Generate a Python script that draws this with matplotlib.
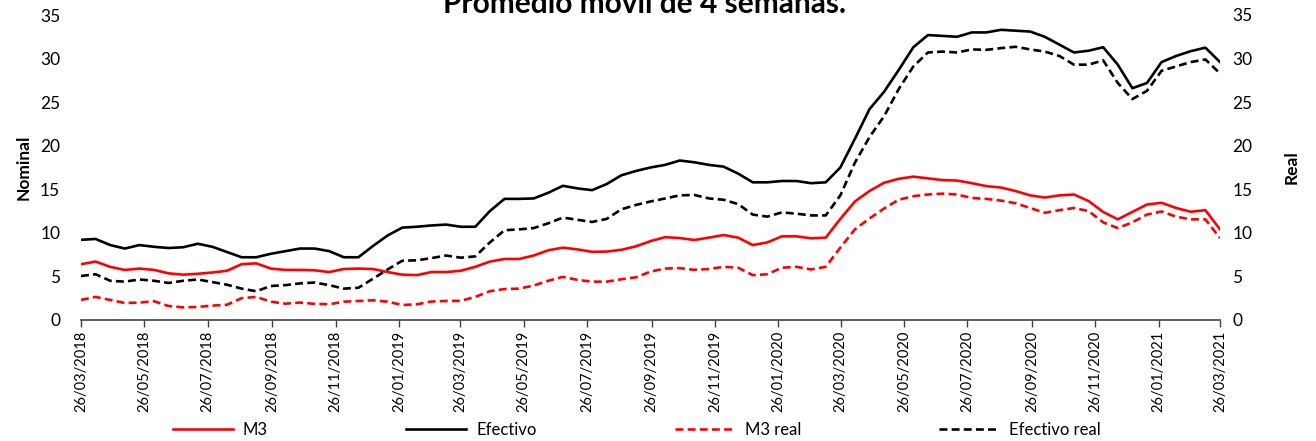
import matplotlib
matplotlib.use("Agg")
import matplotlib.pyplot as plt
import matplotlib.dates as mdates
import pandas as pd
import numpy as np

plt.rcParams['font.family'] = ['Lato', 'DejaVu Sans']

title = "Promedio movil de 4 semanas."
start_date = "2018-03-26"
end_date = "2021-03-26"
n_points = 79

m3 = [6.4, 6.7, 6.1, 5.74, 5.9, 5.75, 5.35, 5.2, 5.3, 5.45,
      5.65, 6.4, 6.5, 5.9, 5.74, 5.74, 5.7, 5.5, 5.85, 5.9,
      5.85, 5.5, 5.2, 5.15, 5.5, 5.5, 5.65, 6.1, 6.7, 7.0,
      7.0, 7.4, 8.0, 8.3, 8.1, 7.82, 7.85, 8.05, 8.45, 9.05,
      9.5, 9.4, 9.18, 9.45, 9.75, 9.45, 8.6, 8.9, 9.6, 9.6,
      9.37, 9.45, 11.6, 13.6, 14.8, 15.75, 16.2, 16.45, 16.25, 16.05,
      16.0, 15.7, 15.36, 15.2, 14.8, 14.3, 14.05, 14.3, 14.4, 13.65,
      12.4, 11.55, 12.4, 13.25, 13.45, 12.85, 12.42, 12.6, 10.4]

efectivo = [9.2, 9.3, 8.6, 8.2, 8.6, 8.4, 8.26, 8.35, 8.75, 8.4,
            7.8, 7.2, 7.2, 7.6, 7.9, 8.2, 8.2, 7.9, 7.2, 7.2,
            8.5, 9.7, 10.6, 10.7, 10.85, 10.95, 10.7, 10.7, 12.5, 13.9,
            13.9, 13.95, 14.6, 15.4, 15.1, 14.9, 15.6, 16.6, 17.1, 17.5,
            17.8, 18.3, 18.1, 17.8, 17.6, 16.8, 15.8, 15.8, 15.95, 15.95,
            15.7, 15.8, 17.5, 20.8, 24.2, 26.2, 28.7, 31.3, 32.7, 32.6,
            32.5, 33.0, 33.0, 33.3, 33.2, 33.1, 32.5, 31.6, 30.7, 30.9,
            31.3, 29.3, 26.6, 27.2, 29.6, 30.3, 30.85, 31.25, 29.6]

m3_real = [2.3, 2.65, 2.3, 1.95, 2.0, 2.15, 1.6, 1.45, 1.5, 1.65,
           1.75, 2.5, 2.65, 2.1, 1.87, 2.0, 1.85, 1.8, 2.1, 2.18,
           2.26, 2.1, 1.72, 1.8, 2.12, 2.18, 2.2, 2.65, 3.3, 3.55,
           3.6, 3.95, 4.5, 4.95, 4.6, 4.4, 4.4, 4.67, 4.9, 5.55,
           5.9, 5.95, 5.75, 5.85, 6.1, 6.0, 5.15, 5.25, 6.0, 6.1,
           5.8, 6.1, 8.3, 10.4, 11.65, 12.8, 13.8, 14.2, 14.4, 14.5,
           14.4, 14.0, 13.9, 13.7, 13.4, 12.85, 12.3, 12.6, 12.85, 12.5,
           11.2, 10.55, 11.2, 12.1, 12.45, 11.85, 11.55, 11.55, 9.4]

efectivo_real = [5.05, 5.25, 4.5, 4.4, 4.65, 4.5, 4.25, 4.5, 4.65, 4.35,
                 4.05, 3.6, 3.3, 3.9, 4.0, 4.2, 4.3, 4.0, 3.6, 3.7,
                 4.74, 5.8, 6.8, 6.85, 7.1, 7.4, 7.15, 7.3, 8.9, 10.3,
                 10.4, 10.55, 11.1, 11.75, 11.5, 11.25, 11.6, 12.7, 13.2, 13.6,
                 13.95, 14.3, 14.35, 13.95, 13.8, 13.3, 12.1, 11.86, 12.35, 12.2,
                 12.0, 12.0, 14.3, 18.06, 21.0, 23.4, 26.5, 29.1, 30.7, 30.8,
                 30.7, 31.05, 31.0, 31.2, 31.35, 31.05, 30.8, 30.3, 29.3, 29.3,
                 29.8, 27.2, 25.35, 26.3, 28.6, 29.1, 29.6, 29.9, 28.3]

tick_dates = ["2018-03-26", "2018-05-26", "2018-07-26", "2018-09-26", "2018-11-26",
              "2019-01-26", "2019-03-26", "2019-05-26", "2019-07-26", "2019-09-26",
              "2019-11-26", "2020-01-26", "2020-03-26", "2020-05-26", "2020-07-26",
              "2020-09-26", "2020-11-26", "2021-01-26", "2021-03-26"]
y_ticks = [0, 5, 10, 15, 20, 25, 30, 35]

dates = pd.date_range(start_date, end_date, periods=n_points)
ticks = pd.to_datetime(tick_dates)

fig = plt.figure(figsize=(13.16, 4.41), dpi=100)
ax = fig.add_axes([81/1316, 1-320/441, (1220-81)/1316, (320-15)/441])

ax.plot(dates, m3, color='#FF0000', lw=1.9, label='M3')
ax.plot(dates, efectivo, color='black', lw=1.9, label='Efectivo')
ax.plot(dates, m3_real, color='#FF0000', lw=1.9, ls=(0, (3, 1.6)), label='M3 real')
ax.plot(dates, efectivo_real, color='black', lw=1.9, ls=(0, (3, 1.6)), label='Efectivo real')

ax.set_xlim(pd.Timestamp(start_date), pd.Timestamp(end_date))
ax.set_ylim(0, 35)
ax.set_yticks(y_ticks)
ax.set_xticks(ticks)
ax.xaxis.set_major_formatter(mdates.DateFormatter('%d/%m/%Y'))
for lab in ax.get_xticklabels():
    lab.set_rotation(90)
ax.tick_params(axis='x', labelsize=10.5, length=5, width=1, color='#404040', direction='out', pad=3)
ax.tick_params(axis='y', labelsize=12.5, length=0, pad=15)
for s in ['left', 'right', 'top']:
    ax.spines[s].set_visible(False)
ax.spines['bottom'].set_color('#404040')
ax.spines['bottom'].set_linewidth(1.2)
ax.set_ylabel('Nominal', fontsize=12.5, fontweight='bold', labelpad=6)

ax2 = ax.twinx()
ax2.set_ylim(0, 35)
ax2.set_yticks(y_ticks)
ax2.tick_params(axis='y', labelsize=12.5, length=0, pad=9)
for s in ['left', 'right', 'top', 'bottom']:
    ax2.spines[s].set_visible(False)
ax2.set_ylabel('Real', fontsize=12.5, fontweight='bold', labelpad=22)

fig.text(0.4895, 1-13/441, title, ha='center', va='baseline', fontsize=21.5, fontweight='bold')

handles, labels = ax.get_legend_handles_labels()
fig.legend(handles, labels, loc='center', bbox_to_anchor=(0.484, 1-430/441), ncol=4,
           frameon=False, fontsize=12, handlelength=3.6, columnspacing=8.3, handletextpad=0.6)

fig.savefig('out.png', dpi=100)
